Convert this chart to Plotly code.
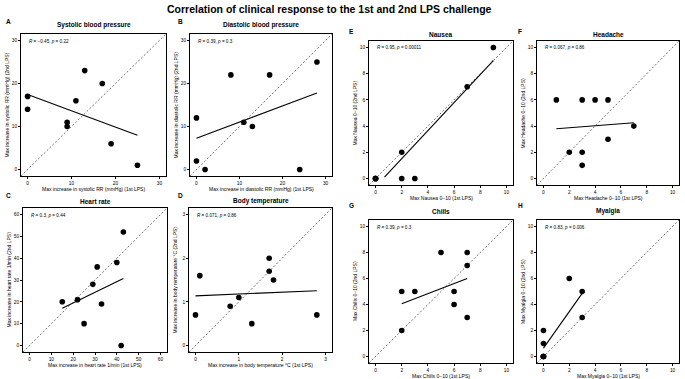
import numpy as np
import plotly.graph_objects as go

W, H = 685, 379

# ---------------- data ----------------
sbp_1st = [0, 0, 9, 9, 11, 13, 17, 19, 25]
sbp_2nd = [17, 14, 11, 10, 16, 23, 20, 6, 1]
dbp_1st = [0, 0, 2, 8, 11, 13, 17, 24, 28]
dbp_2nd = [12, 2, 0, 22, 11, 10, 22, 0, 25]
hr_1st = [15, 22, 25, 29, 31, 33, 40, 42, 43]
hr_2nd = [20, 21, 10, 28, 36, 19, 38, 0, 52]
temp_1st = [0, 0.1, 0.8, 1.0, 1.3, 1.7, 1.7, 1.8, 2.8]
temp_2nd = [0.7, 1.6, 0.9, 1.1, 0.5, 2.0, 1.7, 1.5, 0.7]
nausea_1st = [0, 0, 0, 0, 2, 2, 3, 7, 9]
nausea_2nd = [0, 0, 0, 0, 2, 0, 0, 7, 10]
headache_1st = [1, 3, 4, 5, 7, 5, 2, 3, 3]
headache_2nd = [6, 6, 6, 6, 4, 3, 2, 2, 1]
chills_1st = [2, 2, 3, 5, 6, 6, 7, 7, 7]
chills_2nd = [5, 2, 5, 8, 5, 4, 8, 7, 3]
myalgia_1st = [0, 0, 0, 0, 0, 0, 2, 3, 3]
myalgia_2nd = [0, 0, 0, 0, 1, 2, 6, 5, 3]

panel_letters = ["A", "B", "C", "D", "E", "F", "G", "H"]
panel_titles = ["Systolic blood pressure", "Diastolic blood pressure", "Heart rate",
                "Body temperature", "Nausea", "Headache", "Chills", "Myalgia"]
x_titles = ["Max increase in systolic RR (mmHg) (1st LPS)",
            "Max increase in diastolic RR (mmHg) (1st LPS)",
            "Max increase in heart rate 1/min (1st LPS)",
            "Max increase in body temperature °C (1st LPS)",
            "Max Nausea 0\u221210 (1st LPS)", "Max Headache 0\u221210 (1st LPS)",
            "Max Chills 0\u221210 (1st LPS)", "Max Myalgia 0\u221210 (1st LPS)"]
y_titles = [t.replace("(1st LPS)", "(2nd LPS)") for t in x_titles]
r_labels = ["\u22120.45", "0.39", "0.3", "0.071", "0.95", "0.067", "0.39", "0.83"]
p_labels = ["0.22", "0.3", "0.44", "0.86", "0.00011", "0.86", "0.3", "0.006"]
axis_max = [30, 30, 60, 3, 10, 10, 10, 10]
axis_dtick = [10, 10, 10, 1, 2, 2, 2, 2]

xs_data = [sbp_1st, dbp_1st, hr_1st, temp_1st, nausea_1st, headache_1st, chills_1st, myalgia_1st]
ys_data = [sbp_2nd, dbp_2nd, hr_2nd, temp_2nd, nausea_2nd, headache_2nd, chills_2nd, myalgia_2nd]

# ---------------- layout (pixel boxes of panels) ----------------
boxes = [  # x0, x1, y0(top), y1(bottom)
    (21, 166, 34, 176),
    (190, 332, 34, 176),
    (23, 167, 208, 352),
    (189, 332, 208, 352),
    (369, 513, 41, 185),
    (537, 679, 41, 185),
    (369, 513, 220, 363),
    (537, 679, 220, 363),
]
letter_pos = [(4, 21), (176, 21), (4, 195), (176, 195), (347, 31), (516, 31), (347, 205), (516, 205)]
title_dy = [8, 8, 6, 6, 6, 6, 8, 8]

FONT = "Liberation Sans, Arial, Helvetica, sans-serif"

fig = go.Figure()
annotations = []
shapes = []


def fit_line(x, y, lo):
    m, b = np.polyfit(np.array(x, float), np.array(y, float), 1)
    xx = np.linspace(min(x), max(x), 80)
    yy = m * xx + b
    keep = yy >= lo
    return xx[keep], yy[keep]


layout_axes = {}
for i in range(8):
    n = "" if i == 0 else str(i + 1)
    xa, ya = "x" + n, "y" + n
    x0, x1, y0, y1 = boxes[i]
    mx = axis_max[i]
    rng = [-0.05 * mx, 1.05 * mx]
    common = dict(range=rng, dtick=axis_dtick[i], tick0=0, showgrid=False, zeroline=False,
                  showline=True, mirror=True, linecolor="black", linewidth=0.8,
                  ticks="outside", ticklen=2, tickwidth=0.6, tickcolor="black",
                  tickfont=dict(family=FONT, size=4.8, color="black"), fixedrange=True)
    layout_axes["xaxis" + n] = dict(domain=[x0 / W, x1 / W], anchor=ya, **common)
    layout_axes["yaxis" + n] = dict(domain=[1 - y1 / H, 1 - y0 / H], anchor=xa, **common)

    # points
    fig.add_trace(go.Scatter(x=xs_data[i], y=ys_data[i], mode="markers", xaxis=xa, yaxis=ya,
                             marker=dict(color="black", size=5.6, line=dict(width=0)),
                             showlegend=False, hoverinfo="skip"))
    # regression line
    lx, ly = fit_line(xs_data[i], ys_data[i], 0)
    fig.add_trace(go.Scatter(x=lx, y=ly, mode="lines", xaxis=xa, yaxis=ya,
                             line=dict(color="black", width=1.1),
                             showlegend=False, hoverinfo="skip"))
    # identity line (corner to corner, equal ranges)
    shapes.append(dict(type="line", xref=xa + " domain", yref=ya + " domain",
                       x0=0, y0=0, x1=1, y1=1,
                       line=dict(color="#333333", width=0.7, dash="2px,2px")))

    # R annotation
    annotations.append(dict(xref=xa + " domain", yref=ya + " domain", x=0, y=1,
                            xanchor="left", yanchor="middle", xshift=6, yshift=-7,
                            text="<i>R</i> = %s, <i>p</i> = %s" % (r_labels[i], p_labels[i]),
                            showarrow=False, font=dict(family=FONT, size=4.6, color="black")))
    # panel title
    annotations.append(dict(xref=xa + " domain", yref=ya + " domain", x=0.5, y=1,
                            xanchor="center", yanchor="bottom", yshift=title_dy[i] - 5,
                            text="<b>%s</b>" % panel_titles[i], showarrow=False,
                            font=dict(family=FONT, size=6.5, color="black")))
    # axis titles
    annotations.append(dict(xref=xa + " domain", yref=ya + " domain", x=0.5, y=0,
                            xanchor="center", yanchor="middle", yshift=-13,
                            text=x_titles[i], showarrow=False,
                            font=dict(family=FONT, size=5, color="black")))
    annotations.append(dict(xref=xa + " domain", yref=ya + " domain", x=0, y=0.5,
                            xanchor="center", yanchor="middle", xshift=-14.5, textangle=-90,
                            text=y_titles[i], showarrow=False,
                            font=dict(family=FONT, size=5, color="black")))
    # panel letter
    lxp, lyp = letter_pos[i]
    annotations.append(dict(xref="paper", yref="paper", x=lxp / W, y=1 - lyp / H,
                            xanchor="left", yanchor="middle",
                            text="<b>%s</b>" % panel_letters[i], showarrow=False,
                            font=dict(family=FONT, size=6.5, color="black")))

annotations.append(dict(xref="paper", yref="paper", x=329 / W, y=1 - 9 / H,
                        xanchor="center", yanchor="middle",
                        text="<b>Correlation of clinical response to the 1st and 2nd LPS challenge</b>",
                        showarrow=False, font=dict(family=FONT, size=10.5, color="black")))

fig.update_layout(width=W, height=H, margin=dict(l=0, r=0, t=0, b=0),
                  paper_bgcolor="white", plot_bgcolor="white",
                  annotations=annotations, shapes=shapes, showlegend=False, **layout_axes)

fig.write_html("out.html", config={"displayModeBar": False})
